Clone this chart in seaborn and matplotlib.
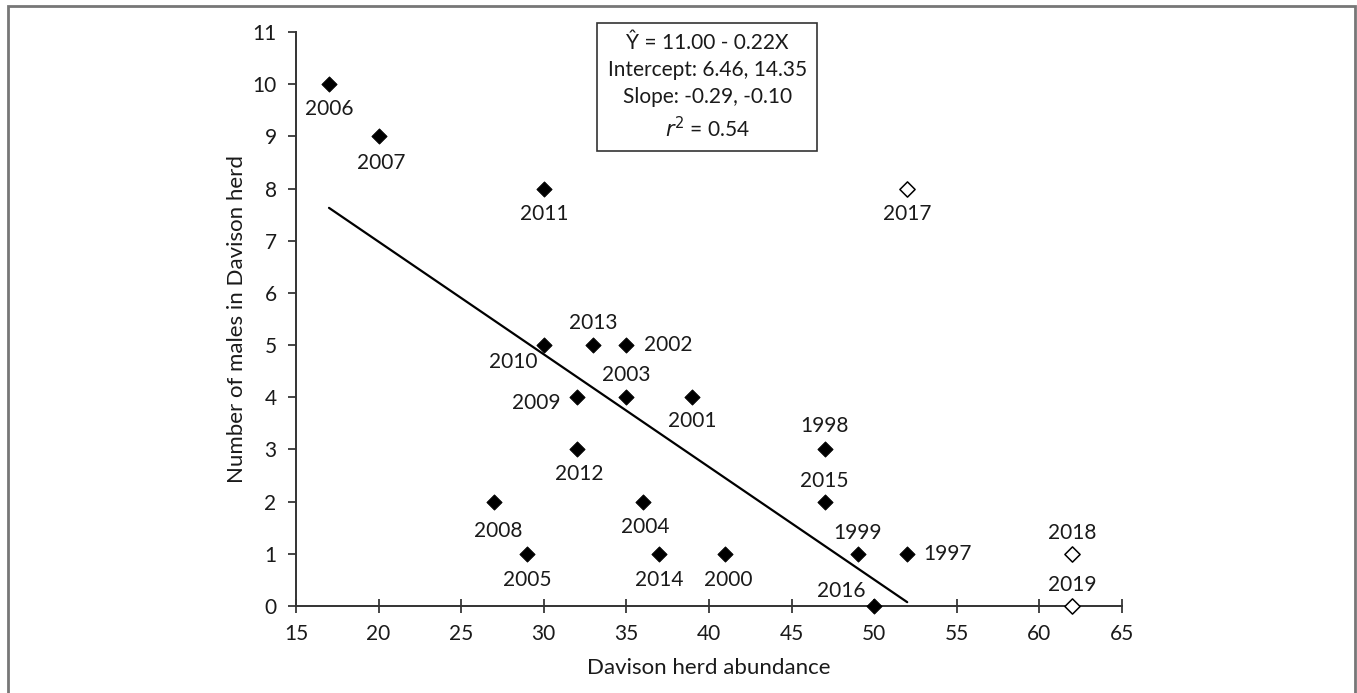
import seaborn as sns
import matplotlib.pyplot as plt
import pandas as pd
from matplotlib.patches import Rectangle

sns.set_theme(style="ticks")
plt.rcParams['font.family'] = ['Lato', 'DejaVu Sans']

# data
years = [2006, 2007, 2011, 2017, 2013, 2010, 2002, 2003, 2009, 2001, 1998, 2012,
         2015, 2008, 2004, 2018, 1999, 1997, 2005, 2014, 2000, 2016, 2019]
abundance = [17, 20, 30, 52, 33, 30, 35, 35, 32, 39, 47, 32,
             47, 27, 36, 62, 49, 52, 29, 37, 41, 50, 62]
males = [10, 9, 8, 8, 5, 5, 5, 4, 4, 4, 3, 3,
         2, 2, 2, 1, 1, 1, 1, 1, 1, 0, 0]
open_years = [2017, 2018, 2019]  # not used in the fit

df = pd.DataFrame({"year": years, "abundance": abundance, "males": males})
df["excluded"] = df["year"].isin(open_years)

# label offsets in points (dx, dy)
lab_off = {2006: (0, -18), 2007: (2, -19), 2011: (0, -18), 2017: (0, -18),
           2013: (0, 16), 2010: (-22, -12), 2002: (30, 0), 2003: (0, 16),
           2009: (-29, -4), 2001: (0, -17), 1998: (0, 17), 2012: (2, -18),
           2015: (0, 15), 2008: (3, -21), 2004: (2, -18), 2018: (0, 15),
           1999: (0, 15), 1997: (29, 0), 2005: (0, -19), 2014: (0, -19),
           2000: (2, -19), 2016: (-24, 11), 2019: (0, 15)}

fig = plt.figure(figsize=(13.57, 6.93), dpi=100)
ax = fig.add_axes([0.2181, 0.1255, 0.6087, 0.8283])

fit = df[~df["excluded"]]
sns.regplot(data=fit, x="abundance", y="males", ax=ax, ci=None, truncate=True,
            scatter=False, line_kws={"color": "black", "lw": 1.6})
sns.scatterplot(data=fit, x="abundance", y="males", ax=ax, marker="D", s=60,
                color="black", edgecolor="black", zorder=3, clip_on=False)
sns.scatterplot(data=df[df["excluded"]], x="abundance", y="males", ax=ax,
                marker="D", s=60, facecolor="white", edgecolor="black",
                linewidth=1.1, zorder=3, clip_on=False)

for y, xv, yv in zip(years, abundance, males):
    dx, dy = lab_off[y]
    ax.annotate(str(y), (xv, yv), xytext=(dx, dy), textcoords="offset points",
                ha="center", va="center", fontsize=15, color="#1a1a1a")

ax.set_xlim(15, 65)
ax.set_ylim(0, 11)
ax.set_xticks(range(15, 66, 5))
ax.set_yticks(range(0, 12))
ax.tick_params(axis="x", direction="inout", length=10, width=1.2, labelsize=15,
               pad=8, labelcolor="#1a1a1a")
ax.tick_params(axis="y", direction="out", length=6, width=1.2, labelsize=15,
               pad=8, labelcolor="#1a1a1a")
sns.despine(ax=ax)
for s in ["left", "bottom"]:
    ax.spines[s].set_linewidth(1.4)
    ax.spines[s].set_color("#333333")
ax.set_xlabel("Davison herd abundance", fontsize=16, labelpad=10, color="#1a1a1a")
ax.set_ylabel("Number of males in Davison herd", fontsize=16, labelpad=4,
              color="#1a1a1a")

ax.text(0.498, 0.904,
        "Ŷ = 11.00 - 0.22X\nIntercept: 6.46, 14.35\nSlope: -0.29, -0.10\n$r^2$ = 0.54",
        transform=ax.transAxes, ha="center", va="center", fontsize=15,
        linespacing=1.42, color="#1a1a1a",
        bbox=dict(boxstyle="square,pad=0.5", fc="white", ec="#333333", lw=1.2))

fig.patches.append(Rectangle((8 / 1357, -0.05), 1347 / 1357, 1 - 6 / 693 + 0.05,
                             transform=fig.transFigure, fill=False,
                             ec="#777777", lw=2))

fig.savefig("out.png", dpi=100)
